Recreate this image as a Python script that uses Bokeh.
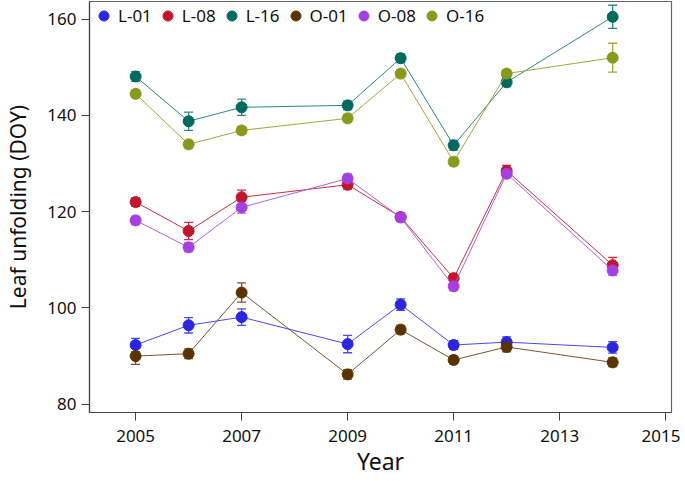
from bokeh.plotting import figure
from bokeh.models import ColumnDataSource, Whisker, TeeHead, Legend, LegendItem, Range1d, FixedTicker
from bokeh.embed import file_html
from bokeh.resources import INLINE

years = [2005, 2006, 2007, 2009, 2010, 2011, 2012, 2014]
series_names = ["L-01", "L-08", "L-16", "O-01", "O-08", "O-16"]

l01 = [92.3, 96.4, 98.1, 92.5, 100.7, 92.3, 92.9, 91.8]
l08 = [122.0, 116.0, 123.0, 125.6, 118.9, 106.2, 128.5, 108.9]
l16 = [148.1, 138.8, 141.7, 142.1, 151.9, 133.8, 146.9, 160.5]
o01 = [90.0, 90.5, 103.2, 86.2, 95.5, 89.2, 91.9, 88.7]
o08 = [118.2, 112.6, 120.9, 126.9, 118.8, 104.5, 127.9, 107.8]
o16 = [144.5, 134.0, 136.9, 139.4, 148.7, 130.4, 148.7, 152.0]

l01_err = [1.4, 1.6, 1.7, 1.8, 1.2, 0.9, 1.1, 1.2]
l08_err = [0.9, 1.8, 1.5, 0.9, 0.8, 0.8, 1.1, 1.6]
l16_err = [1.0, 1.9, 1.7, 0.9, 0.9, 1.0, 0.9, 2.4]
o01_err = [1.7, 1.0, 2.0, 1.0, 0.9, 0.8, 1.0, 0.9]
o08_err = [0.9, 0.9, 1.2, 0.9, 0.8, 0.9, 0.8, 1.0]
o16_err = [0.8, 0.8, 0.8, 0.8, 0.8, 0.8, 0.8, 3.0]

x_ticks = [2005, 2007, 2009, 2011, 2013, 2015]
y_ticks = [80, 100, 120, 140, 160]

values = [l01, l08, l16, o01, o08, o16]
errors = [l01_err, l08_err, l16_err, o01_err, o08_err, o16_err]
marker_colors = ["#2A26E0", "#C0162E", "#006A5E", "#5A3300", "#A53FE0", "#889A1C"]
line_colors = ["#4A4AEE", "#C8303F", "#2E8A80", "#7A5434", "#B060E8", "#A0A83A"]

FONT = "Noto Sans"

p = figure(width=680, height=481, output_backend="svg", toolbar_location=None,
           x_range=Range1d(2004.13, 2015.11), y_range=Range1d(78.28, 163.68),
           min_border_left=89, min_border_right=9, min_border_top=1, min_border_bottom=69)
p.xgrid.visible = False
p.ygrid.visible = False
p.outline_line_color = "#666666"
p.outline_line_width = 1.2

items = []
for name, vals, errs, mc, lc in zip(series_names, values, errors, marker_colors, line_colors):
    src = ColumnDataSource(dict(x=years, y=vals,
                                upper=[v + e for v, e in zip(vals, errs)],
                                lower=[v - e for v, e in zip(vals, errs)]))
    p.line("x", "y", source=src, line_color=lc, line_width=1.0)
    w = Whisker(source=src, base="x", upper="upper", lower="lower", dimension="height",
                line_color=lc, line_width=1.3,
                upper_head=TeeHead(size=9, line_color=lc, line_width=1.3),
                lower_head=TeeHead(size=9, line_color=lc, line_width=1.3))
    p.add_layout(w)
    r = p.scatter("x", "y", source=src, size=11, fill_color=mc, line_color=mc)
    items.append(LegendItem(label=name, renderers=[r]))

legend = Legend(items=items, orientation="horizontal", location="top_left",
                margin=2, padding=0, spacing=3, label_standoff=2,
                glyph_width=25, glyph_height=25,
                label_text_font=FONT, label_text_font_size="17px", label_text_color="#111111",
                background_fill_alpha=0, border_line_alpha=0)
p.add_layout(legend)

p.xaxis.ticker = FixedTicker(ticks=x_ticks)
p.yaxis.ticker = FixedTicker(ticks=y_ticks)
for ax in (p.xaxis, p.yaxis):
    ax.minor_tick_line_color = None
    ax.major_tick_in = 0
    ax.major_tick_out = 8
    ax.major_tick_line_color = "#444444"
    ax.axis_line_color = "#444444"
    ax.axis_line_width = 1.2
    ax.major_label_text_font = FONT
    ax.major_label_text_font_size = "17px"
    ax.major_label_text_color = "#111111"
    ax.axis_label_text_font = FONT
    ax.axis_label_text_font_style = "normal"
    ax.axis_label_text_color = "#111111"

p.xaxis.axis_label = "Year"
p.yaxis.axis_label = "Leaf unfolding (DOY)"
p.xaxis.axis_label_text_font_size = "23px"
p.yaxis.axis_label_text_font_size = "21px"
p.xaxis.major_label_standoff = 9
p.yaxis.major_label_standoff = 5
p.xaxis.axis_label_standoff = 0
p.yaxis.axis_label_standoff = 12

open("out.html", "w").write(file_html(p, INLINE))
